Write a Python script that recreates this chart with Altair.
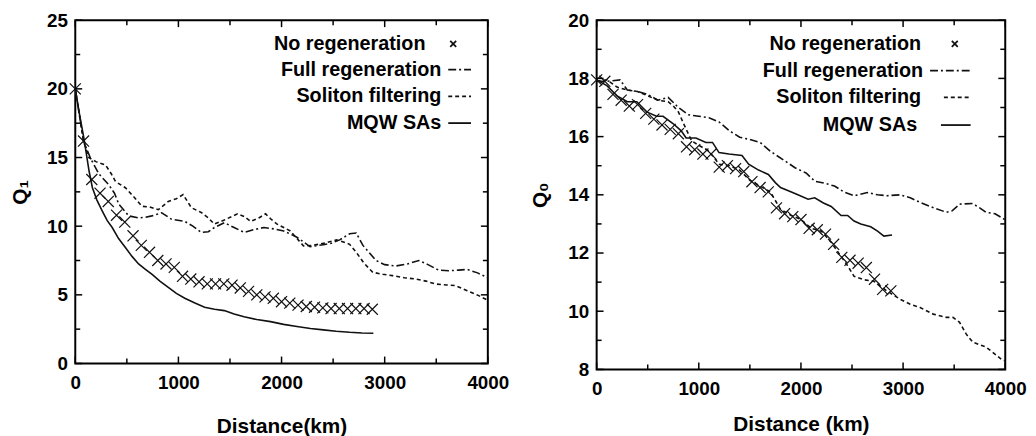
import altair as alt
import pandas as pd

FONT = "Liberation Sans"
INK = "#111111"

# ---------------- Left panel (Q1) ----------------
L_nr_d = [0, 80, 160, 240, 320, 400, 480, 560, 640, 720, 800, 880, 960, 1040, 1120, 1200, 1280, 1360, 1440,
          1520, 1600, 1680, 1760, 1840, 1920, 2000, 2080, 2160, 2240, 2320, 2400, 2480, 2560, 2640, 2720, 2800, 2880]
L_nr_q = [20.0, 16.2, 13.4, 12.4, 11.8, 10.8, 10.3, 9.3, 8.6, 8.1, 7.5, 7.25, 7.0, 6.35, 6.15, 5.95, 5.8, 5.8, 5.8,
          5.7, 5.5, 5.25, 5.0, 4.85, 4.75, 4.5, 4.4, 4.25, 4.15, 4.1, 4.05, 4.0, 4.0, 4.0, 4.0, 4.0, 3.95]

L_mqw_d = [0, 40, 86, 134, 166, 210, 262, 310, 358, 420, 486, 550, 614, 680, 742, 820, 902, 980, 1062, 1160,
           1254, 1350, 1445, 1540, 1637, 1760, 1893, 2020, 2149, 2280, 2405, 2530, 2660, 2780, 2890]
L_mqw_q = [20.0, 18.2, 16.3, 14.0, 12.8, 11.9, 11.1, 10.4, 9.9, 9.1, 8.45, 7.8, 7.25, 6.85, 6.5, 6.0, 5.55, 5.1,
           4.75, 4.4, 4.1, 3.95, 3.85, 3.6, 3.4, 3.2, 3.05, 2.85, 2.7, 2.55, 2.45, 2.35, 2.27, 2.22, 2.2]

L_full_d = [0, 80, 150, 230, 326, 380, 422, 518, 614, 680, 742, 838, 934, 1062, 1140, 1221, 1290, 1349, 1445,
            1540, 1637, 1730, 1829, 1930, 2021, 2149, 2277, 2405, 2480, 2564, 2660, 2724, 2789, 2916, 3000,
            3108, 3220, 3331, 3420, 3523, 3620, 3715, 3800, 3900, 4000]
L_full_q = [20.0, 16.2, 14.9, 13.8, 13.0, 12.4, 11.6, 10.75, 10.6, 10.65, 10.75, 10.97, 10.5, 10.35, 10.0, 9.55,
            9.6, 9.9, 10.25, 9.9, 9.55, 9.75, 9.9, 9.8, 9.65, 9.2, 8.5, 8.65, 8.75, 9.0, 9.45, 9.5, 8.6, 7.5,
            7.2, 7.1, 7.25, 7.5, 7.2, 6.8, 6.75, 6.8, 6.85, 6.6, 6.25]

L_sol_d = [0, 80, 130, 200, 294, 350, 390, 486, 560, 646, 720, 806, 902, 980, 1046, 1125, 1221, 1290, 1349,
           1445, 1573, 1640, 1701, 1780, 1845, 1900, 1957, 2085, 2150, 2213, 2300, 2373, 2436, 2532, 2600,
           2660, 2724, 2800, 2884, 2980, 3076, 3190, 3300, 3400, 3492, 3600, 3683, 3800, 3907, 4000]
L_sol_q = [20.0, 16.2, 15.0, 14.7, 14.45, 13.8, 13.25, 12.8, 12.2, 11.45, 11.4, 11.2, 11.8, 12.0, 12.3, 11.35,
           11.0, 10.6, 10.15, 10.45, 10.9, 10.7, 10.35, 10.6, 10.9, 10.5, 10.15, 9.65, 9.1, 8.56, 8.6, 8.7,
           8.8, 9.0, 8.85, 8.68, 8.1, 7.3, 6.64, 6.5, 6.4, 6.25, 6.15, 6.0, 5.79, 5.72, 5.68, 5.3, 4.96, 4.6]

# ---------------- Right panel (Q0) ----------------
R_nr_d = [0, 80, 160, 240, 320, 400, 480, 560, 640, 720, 800, 880, 960, 1040, 1120, 1200, 1280, 1360, 1440,
          1520, 1600, 1680, 1760, 1840, 1920, 2000, 2080, 2160, 2240, 2320, 2400, 2480, 2560, 2640, 2720, 2800, 2880]
R_nr_q = [17.95, 17.9, 17.45, 17.25, 17.05, 17.1, 16.8, 16.6, 16.4, 16.25, 16.1, 15.65, 15.55, 15.4, 15.4, 14.95,
          15.0, 14.9, 14.8, 14.45, 14.25, 14.1, 13.55, 13.35, 13.25, 13.15, 12.85, 12.8, 12.65, 12.3, 11.85,
          11.75, 11.65, 11.5, 11.1, 10.75, 10.7]

R_mqw_d = [0, 100, 200, 300, 393, 490, 586, 650, 747, 828, 876, 972, 1069, 1134, 1198, 1295, 1423, 1488, 1585,
           1681, 1749, 1800, 1877, 1970, 2070, 2135, 2220, 2296, 2393, 2457, 2520, 2586, 2683, 2750, 2812, 2892]
R_mqw_q = [17.95, 17.75, 17.4, 17.2, 17.2, 16.85, 16.7, 16.7, 16.45, 16.2, 15.95, 15.95, 15.8, 15.8, 15.45, 15.4,
           15.35, 15.05, 14.85, 14.7, 14.42, 14.25, 14.14, 14.0, 13.85, 13.9, 13.72, 13.6, 13.29, 13.29, 13.1,
           13.0, 12.9, 12.75, 12.58, 12.62]

R_full_d = [0, 100, 230, 300, 400, 500, 600, 700, 800, 900, 1000, 1100, 1200, 1300, 1400, 1500, 1600, 1700,
            1750, 1850, 1942, 2050, 2135, 2230, 2329, 2420, 2522, 2650, 2750, 2844, 2973, 3070, 3166, 3300,
            3424, 3480, 3553, 3681, 3750, 3810, 3900, 4000]
R_full_q = [17.9, 17.9, 17.95, 17.6, 17.55, 17.45, 17.25, 17.35, 17.0, 16.75, 16.7, 16.65, 16.5, 16.2, 15.98,
            15.9, 15.8, 15.5, 15.38, 15.15, 14.93, 14.75, 14.47, 14.4, 14.3, 14.1, 13.97, 14.08, 14.0, 13.97,
            14.0, 13.9, 13.74, 13.55, 13.4, 13.45, 13.68, 13.7, 13.55, 13.4, 13.35, 13.14]

R_sol_d = [0, 100, 200, 300, 400, 500, 600, 700, 750, 800, 870, 930, 1000, 1100, 1200, 1300, 1400, 1500, 1600,
           1700, 1800, 1900, 2000, 2100, 2200, 2300, 2400, 2450, 2520, 2620, 2715, 2844, 2973, 3070, 3166, 3295,
           3424, 3488, 3553, 3617, 3681, 3810, 3874, 3971, 4000]
R_sol_q = [17.9, 17.95, 17.7, 17.6, 17.55, 17.4, 17.25, 17.2, 17.05, 16.85, 16.3, 15.85, 15.7, 15.5, 15.05, 15.0,
           14.85, 14.5, 14.3, 14.1, 13.5, 13.3, 13.15, 12.85, 12.75, 12.35, 11.85, 11.6, 11.2, 11.08, 11.03,
           10.69, 10.41, 10.24, 10.13, 9.9, 9.79, 9.79, 9.62, 9.22, 8.94, 8.77, 8.6, 8.32, 8.3]

# ---------------- Axes / ticks ----------------
X_MAJOR = [0, 1000, 2000, 3000, 4000]
X_MINOR = [500, 1500, 2500, 3500]
L_Y_MAJOR = [0, 5, 10, 15, 20, 25]
L_Y_MINOR = [2.5, 7.5, 12.5, 17.5, 22.5]
R_Y_MAJOR = [8, 10, 12, 14, 16, 18, 20]
R_Y_MINOR = [9, 11, 13, 15, 17, 19]

LEGEND_LABELS = ["No regeneration", "Full regeneration", "Soliton filtering", "MQW SAs"]

XSHAPE = "M-1,-1L1,1M-1,1L1,-1"
DASH_DOT = [8, 3, 2, 3]
DASH = [4, 3]


def panel(nr_d, nr_q, mqw_d, mqw_q, full_d, full_q, sol_d, sol_q,
          ydom, ymaj, ymin, ytitle, xtitle, W, H, leg, xtpad, ytpad):
    xs = alt.Scale(domain=[0, 4000], nice=False, zero=False)
    ys = alt.Scale(domain=ydom, nice=False, zero=False)
    common = dict(ticks=False, tickSize=0, domain=False, grid=False, labelFlush=False, format="d",
                  labelFont=FONT, labelFontSize=19, labelFontWeight="bold", labelColor="black",
                  titleFont=FONT, titleFontSize=21, titleFontWeight="bold", titleColor="black")
    xaxis = alt.Axis(values=X_MAJOR, labelPadding=10, titlePadding=xtpad, title=xtitle, **common)
    yaxis = alt.Axis(values=ymaj, labelPadding=8, titlePadding=ytpad, title=ytitle, **common)

    def X(f):
        return alt.X(f, scale=xs, axis=xaxis)

    def Y(f):
        return alt.Y(f, scale=ys, axis=yaxis)

    def line(d, q, dash):
        df = pd.DataFrame({"d": d, "q": q})
        kw = dict(color=INK, strokeWidth=1.6, clip=True)
        if dash:
            kw["strokeDash"] = dash
        return alt.Chart(df).mark_line(**kw).encode(x=X("d:Q"), y=Y("q:Q"))

    full = line(full_d, full_q, DASH_DOT)
    sol = line(sol_d, sol_q, DASH)
    mqw = line(mqw_d, mqw_q, None)
    marks = alt.Chart(pd.DataFrame({"d": nr_d, "q": nr_q})).mark_point(
        shape=XSHAPE, filled=False, size=125, strokeWidth=1.2, color=INK, opacity=1
    ).encode(x=X("d:Q"), y=Y("q:Q"))

    def yticks(vals, length):
        df = pd.DataFrame({"q": vals})
        base = alt.Chart(df).mark_rule(color="black", strokeWidth=1.5)
        return [
            base.encode(y=Y("q:Q"), x=alt.value(0), x2=alt.value(length)),
            base.encode(y=Y("q:Q"), x=alt.value(W - length), x2=alt.value(W)),
        ]

    def xticks(vals, length):
        df = pd.DataFrame({"d": vals})
        base = alt.Chart(df).mark_rule(color="black", strokeWidth=1.5)
        return [
            base.encode(x=X("d:Q"), y=alt.value(H - length), y2=alt.value(H)),
            base.encode(x=X("d:Q"), y=alt.value(0), y2=alt.value(length)),
        ]

    ticks = yticks(ymaj, 7) + yticks(ymin, 5) + xticks(X_MAJOR, 7) + xticks(X_MINOR, 5)

    # legend (gnuplot-style key: text right-aligned, sample to the right)
    one = pd.DataFrame({"a": [0]})
    lg = []
    for i, lab in enumerate(LEGEND_LABELS):
        lg.append(alt.Chart(one).mark_text(align="right", baseline="middle", font=FONT, fontSize=20,
                                           fontWeight="bold", color="black").encode(
            x=alt.value(leg["text_x"][i]), y=alt.value(leg["rows"][i]), text=alt.value(lab)))
    r = leg["rows"]
    lg.append(alt.Chart(one).mark_point(shape=XSHAPE, filled=False, size=36, strokeWidth=1.8,
                                        color=INK, opacity=1).encode(x=alt.value(leg["xmark"]), y=alt.value(r[0])))
    for i, dash in [(1, DASH_DOT), (2, DASH), (3, None)]:
        kw = dict(color=INK, strokeWidth=1.8)
        if dash:
            kw["strokeDash"] = dash
        x0, x1 = leg["samples"][i - 1]
        lg.append(alt.Chart(one).mark_rule(**kw).encode(
            x=alt.value(x0), x2=alt.value(x1), y=alt.value(r[i])))

    return alt.layer(full, sol, mqw, marks, *ticks, *lg).properties(width=W, height=H)


left = panel(L_nr_d, L_nr_q, L_mqw_d, L_mqw_q, L_full_d, L_full_q, L_sol_d, L_sol_q,
             [0, 25], L_Y_MAJOR, L_Y_MINOR, "Q\u2081", "Distance(km)", 417, 347,
             {"text_x": [354, 370, 370, 370], "rows": [24, 50, 77, 104], "xmark": 382,
              "samples": [(377, 400), (377, 400), (377, 400)]},
             xtpad=24, ytpad=16)

right = panel(R_nr_d, R_nr_q, R_mqw_d, R_mqw_q, R_full_d, R_full_q, R_sol_d, R_sol_q,
              [8, 20], R_Y_MAJOR, R_Y_MINOR, "Q\u2080", "Distance (km)", 413, 353,
              {"text_x": [328, 330, 328, 324], "rows": [24, 51, 78, 106], "xmark": 362,
               "samples": [(337, 378), (351, 378), (348, 378)]},
              xtpad=16, ytpad=18)

chart = alt.hconcat(left, right, spacing=17).properties(
    padding={"left": 0, "top": 0, "right": 0, "bottom": 0},
    background="white",
).configure_view(
    stroke="black", strokeWidth=2
)

chart.save("out.html", embed_options={"renderer": "svg", "actions": False})
